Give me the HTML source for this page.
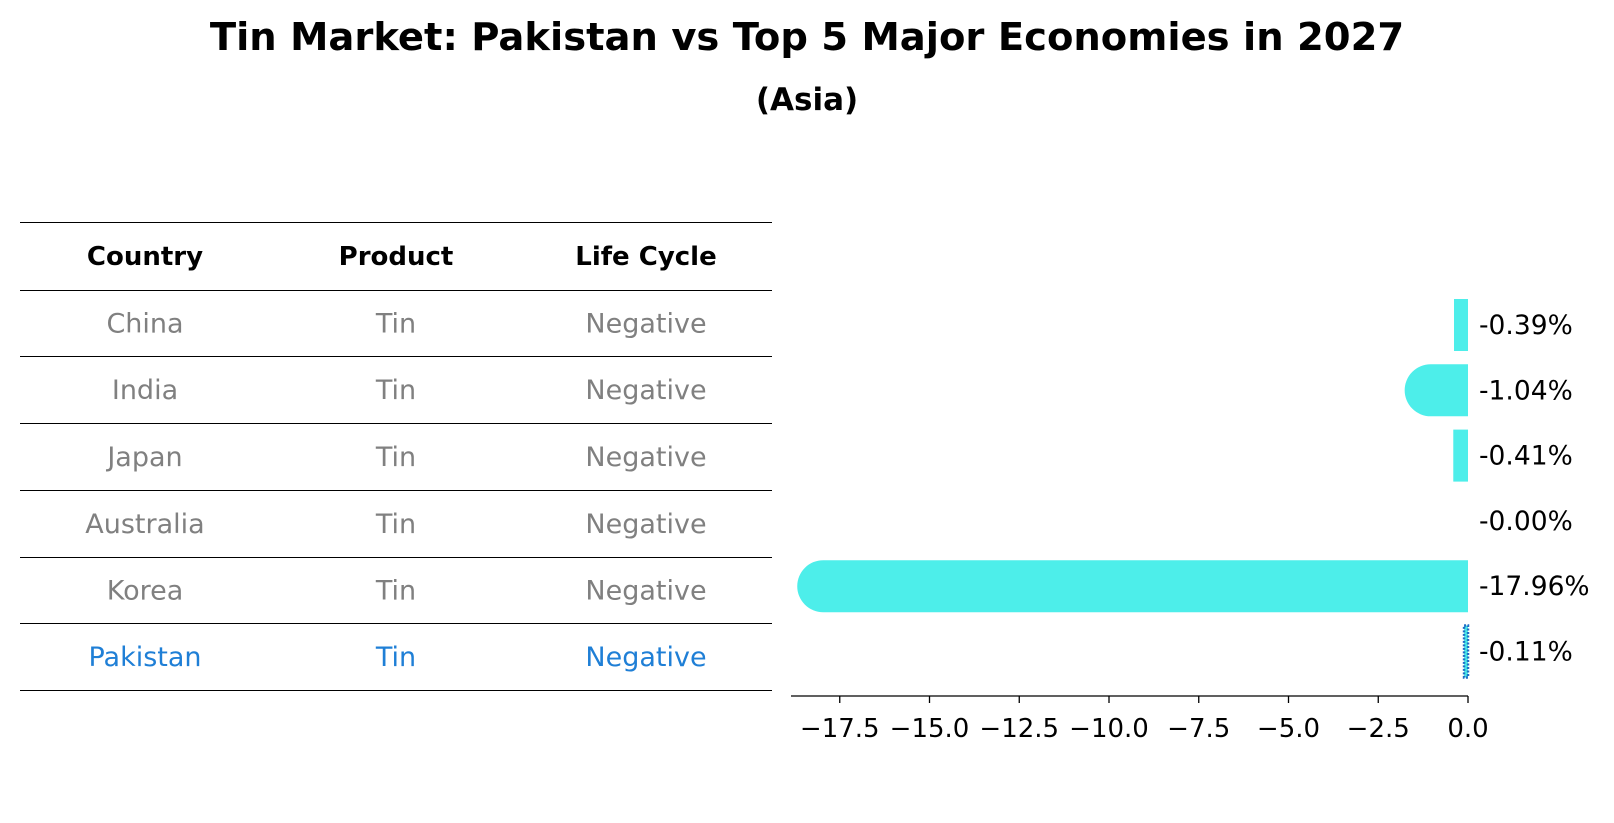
<!DOCTYPE html>
<html><head><meta charset="utf-8"><style>
body{margin:0;background:#fff;font-family:"DejaVu Sans","Liberation Sans",sans-serif;}
#c{position:relative;width:1614px;height:823px;overflow:hidden;}
</style></head><body>
<div id="c">
<svg id="s" width="1614" height="823">
<text x="807" y="50" text-anchor="middle" font-size="38.5" font-weight="bold">Tin Market: Pakistan vs Top 5 Major Economies in 2027</text>
<text x="807" y="110" text-anchor="middle" font-size="31" font-weight="bold">(Asia)</text>
<g id="tbl"></g>
<g id="bars"></g>
</svg>
</div>
<script>
const countries=["China","India","Japan","Australia","Korea","Pakistan"];
const products=["Tin","Tin","Tin","Tin","Tin","Tin"];
const lifeCycles=["Negative","Negative","Negative","Negative","Negative","Negative"];
const values=[-0.39,-1.04,-0.41,-0.00,-17.96,-0.11];
const valueLabels=["-0.39%","-1.04%","-0.41%","-0.00%","-17.96%","-0.11%"];
const ticks=[-17.5,-15.0,-12.5,-10.0,-7.5,-5.0,-2.5,0.0];
const tickLabels=["\u221217.5","\u221215.0","\u221212.5","\u221210.0","\u22127.5","\u22125.0","\u22122.5","0.0"];

const NS="http://www.w3.org/2000/svg";
function mk(tag,attrs,parent){const e=document.createElementNS(NS,tag);for(const k in attrs)e.setAttribute(k,attrs[k]);parent.appendChild(e);return e;}
const tbl=document.getElementById('tbl');
const lineYs=[222.5,290.5,356.5,423.5,490.5,557.5,623.5,690.5];
const colX=[145,396,646];
const headers=["Country","Product","Life Cycle"];
lineYs.forEach((y,i)=>{const l=mk('line',{x1:20,x2:772,y1:y,y2:y,stroke:'#000','stroke-width':1},tbl);

});
headers.forEach((h,j)=>{const t=mk('text',{x:colX[j],y:265,'text-anchor':'middle','font-size':26,'font-weight':'bold'},tbl);t.textContent=h;

});
countries.forEach((c,i)=>{const y=(lineYs[i+1]+lineYs[i+2])/2+9;const col=c==="Pakistan"?'#1f7fd6':'#808080';
[c,products[i],lifeCycles[i]].forEach((v,j)=>{const t=mk('text',{x:colX[j],y:y,'text-anchor':'middle','font-size':27,fill:col},tbl);t.textContent=v;

});});
const g=document.getElementById('bars');
const xmin=-18.858,xmax=0,L=791,R=1468;
const xs=v=>L+(v-xmin)/(xmax-xmin)*(R-L);
const rowY=i=>325+i*65.3;
const bh=52,rad=26;
values.forEach((v,i)=>{const x0=xs(0),x1=xs(v),yc=rowY(i),w=x0-x1;let el;
if(countries[i]==="Pakistan"){
 el=mk('rect',{x:x1,y:yc-bh/2,width:Math.max(w,0.5),height:bh,fill:'#4deeea',stroke:'#1f6fc6','stroke-width':2.5,'stroke-dasharray':'2,1.5'},g);
}else if(w>rad){
 el=mk('path',{d:`M${x0},${yc-bh/2} L${x1},${yc-bh/2} A${rad},${rad} 0 0 0 ${x1},${yc+bh/2} L${x0},${yc+bh/2} Z`,fill:'#4deeea'},g);
}else{
 el=mk('rect',{x:x1,y:yc-bh/2,width:w,height:bh,fill:'#4deeea'},g);
}


const t=mk('text',{x:1479,y:yc+9,'font-size':26.5},g);t.textContent=valueLabels[i];

});
const ax=mk('line',{x1:L,x2:R,y1:696,y2:696,stroke:'#000','stroke-width':1.3},g);


ticks.forEach((tv,i)=>{const x=xs(tv);const tk=mk('line',{x1:x,x2:x,y1:696,y2:703,stroke:'#000','stroke-width':1.3},g);


const t=mk('text',{x:x,y:737,'text-anchor':'middle','font-size':26},g);t.textContent=tickLabels[i];

});
</script>
</body></html>
